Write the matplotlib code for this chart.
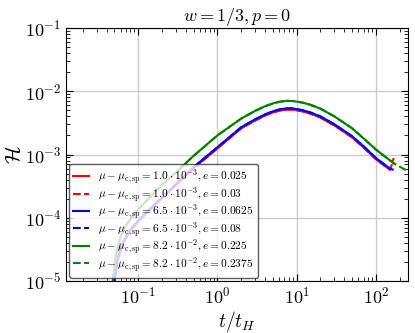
import numpy as np
import matplotlib.pyplot as plt

plt.rcParams['mathtext.fontset'] = 'cm'
plt.rcParams['font.family'] = 'serif'
plt.rcParams['font.serif'] = ['cmr10', 'DejaVu Serif']
plt.rcParams['axes.formatter.use_mathtext'] = True

labels = [
    r'$\mu-\mu_{\rm c,sp}=1.0\cdot10^{-3}, e=0.025$',
    r'$\mu-\mu_{\rm c,sp}=1.0\cdot10^{-3}, e=0.03$',
    r'$\mu-\mu_{\rm c,sp}=6.5\cdot10^{-3}, e=0.0625$',
    r'$\mu-\mu_{\rm c,sp}=6.5\cdot10^{-3}, e=0.08$',
    r'$\mu-\mu_{\rm c,sp}=8.2\cdot10^{-2}, e=0.225$',
    r'$\mu-\mu_{\rm c,sp}=8.2\cdot10^{-2}, e=0.2375$',
]

# blue (mu - mu_c = 6.5e-3)
t_blue = [0.05, 0.055, 0.065, 0.08, 0.1, 0.15, 0.2, 0.3, 0.5, 1.0, 2.0, 3.0, 4.0, 5.0, 6.0,
          7.5, 9.0, 12, 15, 20, 30, 50, 70, 100, 150]
h_blue = [1e-5, 2.2e-5, 4.2e-5, 6.5e-5, 9e-5, 1.5e-4, 2.1e-4, 3.4e-4, 6.3e-4, 1.3e-3, 2.7e-3,
          3.6e-3, 4.3e-3, 4.8e-3, 5.15e-3, 5.35e-3, 5.35e-3, 5.0e-3, 4.6e-3, 4.0e-3, 3.0e-3,
          1.95e-3, 1.35e-3, 8.8e-4, 6.0e-4]
t_blue2 = t_blue + [168]
h_blue2 = h_blue + [5.7e-4]

# red (mu - mu_c = 1e-3), just under blue
t_red = list(t_blue)
h_red = [0.96 * h for h in h_blue]
t_red2 = t_red + [160, 168]
h_red2 = h_red + [7.0e-4, 8.8e-4]

# green (mu - mu_c = 8.2e-2)
t_green = [0.048, 0.052, 0.06, 0.07, 0.08, 0.1, 0.15, 0.2, 0.3, 0.5, 1.0, 2.0, 3.0, 4.0, 5.0,
           6.0, 7.5, 9.0, 12, 15, 20, 30, 50, 70, 100, 170]
h_green = [1e-5, 2.5e-5, 5e-5, 7.5e-5, 9.5e-5, 1.35e-4, 2.3e-4, 3.3e-4, 5.2e-4, 9.5e-4, 2.0e-3,
           3.7e-3, 4.9e-3, 5.8e-3, 6.4e-3, 6.8e-3, 7.05e-3, 7.0e-3, 6.6e-3, 6.1e-3, 5.3e-3,
           4.0e-3, 2.6e-3, 1.8e-3, 1.2e-3, 7.2e-4]
t_green2 = t_green + [250]
h_green2 = h_green + [5.5e-4]

fig = plt.figure(figsize=(4.15, 3.33), dpi=100)
ax = fig.add_axes([0.159, 0.156, 0.824, 0.76])

ax.loglog(t_red, h_red, color='red', lw=1.5, label=labels[0])
ax.loglog(t_red2, h_red2, color='red', lw=1.5, ls='--', label=labels[1])
ax.loglog(t_blue, h_blue, color='blue', lw=1.5, label=labels[2])
ax.loglog(t_blue2, h_blue2, color='blue', lw=1.5, ls='--', label=labels[3])
ax.loglog(t_green, h_green, color='green', lw=1.5, label=labels[4])
ax.loglog(t_green2, h_green2, color='green', lw=1.5, ls='--', label=labels[5])

ax.set_xlim(0.0123, 254)
ax.set_ylim(1e-5, 1e-1)
ax.grid(True, which='major', color='0.8', lw=1)
ax.tick_params(which='both', direction='in', top=True, right=True, labelsize=13)
ax.tick_params(which='major', length=5)
ax.tick_params(which='minor', length=3)
ax.set_title(r'$w=1/3, p=0$', fontsize=13, pad=3)
ax.set_xlabel(r'$t/t_H$', fontsize=14, labelpad=2)
ax.set_ylabel(r'$\mathcal{H}$', fontsize=15, labelpad=0)

leg = ax.legend(loc='lower left', fontsize=8.2, handlelength=1.4, labelspacing=-0.1,
                handletextpad=0.8, borderpad=0.35, borderaxespad=0.3,
                framealpha=0.8, fancybox=True)
leg.get_frame().set_edgecolor('0.2')

fig.savefig('out.png', dpi=100)
